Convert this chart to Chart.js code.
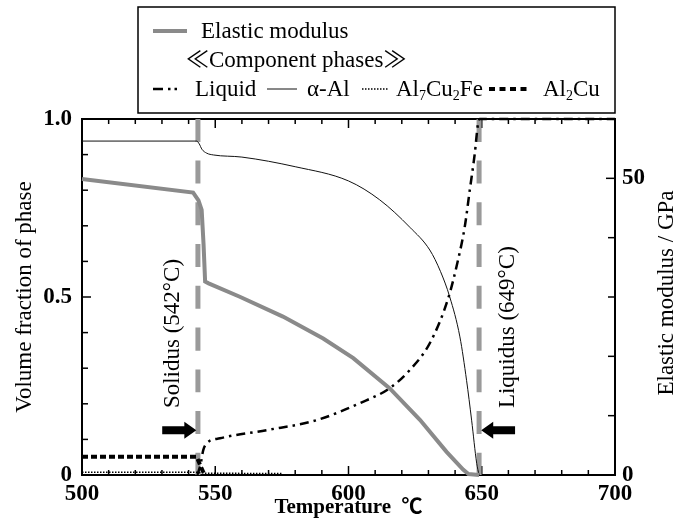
<!DOCTYPE html>
<html><head><meta charset="utf-8">
<script src="https://cdn.jsdelivr.net/npm/chart.js@4"></script>
<style>html,body{margin:0;padding:0;background:#fff}#wrap{width:691px;height:529px;position:relative}</style>
</head><body><div id="wrap"><canvas id="c"></canvas></div>
<script>
// ---------- data ----------
const xTickLabelValues = [500, 550, 600, 650, 700];
const yTickLabelValues = [0, 0.5, 1.0];
const yTickLabels = ['0', '0.5', '1.0'];
const y2TickLabelValues = [0, 50];

const alphaT = [500, 543, 544, 545, 546.8, 549.3, 560, 580, 600, 611.7, 623, 630.5, 634.5, 638, 641.8, 644.3, 646.2, 648.1, 649];
const alphaV = [0.938, 0.938, 0.93, 0.915, 0.904, 0.899, 0.893, 0.866, 0.826, 0.773, 0.696, 0.632, 0.572, 0.50, 0.388, 0.266, 0.154, 0.033, 0];

const liquidT = [543.3, 544.5, 545.5, 546.8, 551.8, 569.3, 588, 604.3, 615.5, 623, 630.5, 637.4, 641.1, 643.6, 645.5, 647.4, 648.6, 649.2, 700];
const liquidV = [0, 0.03, 0.07, 0.089, 0.103, 0.126, 0.154, 0.202, 0.244, 0.295, 0.37, 0.496, 0.604, 0.696, 0.80, 0.904, 0.987, 1.0, 1.0];

const al7T = [500, 543, 546, 575];
const al7V = [0.008, 0.008, 0.005, 0.004];

const al2T = [500, 543, 544.5, 546];
const al2V = [0.051, 0.051, 0.025, 0];

const elasticT = [500, 541.7, 543.7, 544.9, 545.6, 546.2, 547.5, 559.2, 575.4, 590.5, 601.8, 615.5, 626.8, 636.8, 643, 645, 649];
const elasticV = [49.9, 47.6, 46.3, 44.7, 39.0, 32.6, 32.3, 30.05, 26.7, 23.0, 19.7, 14.6, 9.3, 3.9, 0.9, 0.15, 0];

const solidusT = 543.5;
const liquidusT = 649;
const markerLabels = ['Solidus (542°C)', 'Liquidus (649°C)'];
const markerLabelT = [534.2, 659.9];
const markerLabelV = 0.188;
const arrowTailT = [530.1, 662.5];
const arrowTipT = [542.9, 649.8];
const arrowV = 0.126;

const seriesLabels = ['Elastic modulus', 'Liquid', 'α-Al', 'Al7Cu2Fe', 'Al2Cu'];
const phaseRich = [
  [['Liquid', 0]],
  [['α-Al', 0]],
  [['Al', 0], ['7', 1], ['Cu', 0], ['2', 1], ['Fe', 0]],
  [['Al', 0], ['2', 1], ['Cu', 0]]
];
const legendHeader = '≪Component phases≫';

// ---------- helpers ----------
const SERIF = '"Liberation Serif", "Times New Roman", "Noto Sans CJK JP", serif';
const pts = (xs, ys) => xs.map((x, i) => ({x, y: ys[i]}));
const near = (v, arr) => arr.findIndex(a => Math.abs(a - v) < 1e-6);

const datasets = [
  {label: seriesLabels[0], data: pts(elasticT, elasticV), yAxisID: 'y2', borderColor: '#8a8a8a', borderWidth: 4, order: 1, cubicInterpolationMode: 'default', tension: 0},
  {label: seriesLabels[1], data: pts(liquidT, liquidV), yAxisID: 'y', borderColor: '#000', borderWidth: 2.5, borderDash: [9, 5, 2.5, 5], order: 2},
  {label: seriesLabels[2], data: pts(alphaT, alphaV), yAxisID: 'y', borderColor: '#111', borderWidth: 1, order: 3},
  {label: seriesLabels[3], data: pts(al7T, al7V), yAxisID: 'y', borderColor: '#000', borderWidth: 1.5, borderDash: [1.5, 1.5], order: 4, cubicInterpolationMode: 'default'},
  {label: seriesLabels[4], data: pts(al2T, al2V), yAxisID: 'y', borderColor: '#000', borderWidth: 4, borderDash: [6, 3], order: 5, cubicInterpolationMode: 'default'},
  {label: 'Solidus', data: pts([solidusT, solidusT], [1, 0]), yAxisID: 'y', borderColor: '#9a9a9a', borderWidth: 5, borderDash: [23, 18.7], order: 8},
  {label: 'Liquidus', data: pts([liquidusT, liquidusT], [1, 0]), yAxisID: 'y', borderColor: '#9a9a9a', borderWidth: 5, borderDash: [23, 18.7], order: 8}
].map(d => Object.assign({pointRadius: 0, pointHoverRadius: 0, fill: false, tension: 0, cubicInterpolationMode: 'monotone', clip: false, borderCapStyle: 'butt'}, d));

const framePlugin = {
  id: 'frame',
  beforeDatasetsDraw(chart) {
    const {ctx, chartArea: ca} = chart;
    ctx.save();
    ctx.strokeStyle = '#000'; ctx.lineWidth = 2;
    ctx.strokeRect(ca.left, ca.top, ca.right - ca.left, ca.bottom - ca.top);
    ctx.lineWidth = 1.5;
    const line = (a, b, c, d) => { ctx.beginPath(); ctx.moveTo(a, b); ctx.lineTo(c, d); ctx.stroke(); };
    const sx = chart.scales.x, sy = chart.scales.y, sy2 = chart.scales.y2;
    sx.ticks.forEach(t => {
      const p = sx.getPixelForValue(t.value); const L = near(t.value, xTickLabelValues) >= 0 ? 9 : 5;
      line(p, ca.bottom, p, ca.bottom - L); line(p, ca.top, p, ca.top + L);
    });
    sy.ticks.forEach(t => {
      const p = sy.getPixelForValue(t.value); const L = near(t.value, yTickLabelValues) >= 0 ? 9 : 6;
      line(ca.left, p, ca.left + L, p);
    });
    sy2.ticks.forEach(t => {
      const p = sy2.getPixelForValue(t.value); const L = near(t.value, y2TickLabelValues) >= 0 ? 9 : 7;
      line(ca.right, p, ca.right - L, p);
    });
    ctx.restore();
  },
  afterDatasetsDraw(chart) {
    const {ctx, chartArea: ca} = chart;
    const sx = chart.scales.x, sy = chart.scales.y;
    ctx.save();
    ctx.fillStyle = '#000';
    ctx.font = '23px ' + SERIF;
    ctx.textAlign = 'left'; ctx.textBaseline = 'middle';
    markerLabels.forEach((s, i) => {
      ctx.save();
      ctx.translate(sx.getPixelForValue(markerLabelT[i]), sy.getPixelForValue(markerLabelV));
      ctx.rotate(-Math.PI / 2);
      ctx.fillText(s, 0, 0);
      ctx.restore();
    });
    // arrows
    arrowTailT.forEach((tail, i) => {
      const x0 = sx.getPixelForValue(tail), x1 = sx.getPixelForValue(arrowTipT[i]);
      const y = sy.getPixelForValue(arrowV);
      const dir = Math.sign(x1 - x0), head = 12;
      ctx.beginPath();
      ctx.moveTo(x0, y - 4); ctx.lineTo(x1 - dir * head, y - 4); ctx.lineTo(x1 - dir * head, y - 8.5);
      ctx.lineTo(x1, y); ctx.lineTo(x1 - dir * head, y + 8.5); ctx.lineTo(x1 - dir * head, y + 4);
      ctx.lineTo(x0, y + 4); ctx.closePath(); ctx.fill();
    });
    // right title
    ctx.save();
    ctx.font = '23px ' + SERIF; ctx.textAlign = 'center'; ctx.textBaseline = 'middle';
    ctx.translate(667, (ca.top + ca.bottom) / 2 - 4);
    ctx.rotate(-Math.PI / 2);
    ctx.fillText('Elastic modulus / GPa', 0, 0);
    ctx.restore();
    ctx.restore();
  },
  afterDraw(chart) {
    const {ctx} = chart;
    const ds = chart.data.datasets;
    ctx.save();
    ctx.strokeStyle = '#000'; ctx.lineWidth = 1.5;
    ctx.strokeRect(138, 7, 477, 106);
    const sample = (d, x0, x1, y, dash) => {
      ctx.save(); ctx.strokeStyle = d.borderColor; ctx.lineWidth = d.borderWidth;
      ctx.setLineDash(dash || d.borderDash || []);
      ctx.beginPath(); ctx.moveTo(x0, y); ctx.lineTo(x1, y); ctx.stroke(); ctx.restore();
    };
    const rich = (parts, x, y) => {
      parts.forEach(([t, sub]) => {
        ctx.font = (sub ? 14 : 23) + 'px ' + SERIF;
        ctx.fillText(t, x, sub ? y + 4 : y);
        x += ctx.measureText(t).width;
      });
      return x;
    };
    ctx.fillStyle = '#000'; ctx.textBaseline = 'alphabetic'; ctx.textAlign = 'left';
    // row 1
    sample(ds[0], 153, 187, 31);
    ctx.font = '23px ' + SERIF; ctx.fillText(ds[0].label, 201, 38);
    // row 2
    ctx.fillText(legendHeader, 186, 67);
    // row 3
    const y3 = 96, ys = 89;
    sample(ds[1], 153, 183, ys, [10, 5, 2.5, 4, 2.5, 40]);
    rich(phaseRich[0], 195, y3);
    sample(ds[2], 267, 297, ys);
    rich(phaseRich[1], 307, y3);
    sample(ds[3], 362, 388, ys);
    rich(phaseRich[2], 396, y3);
    sample(ds[4], 489, 530, ys, [6, 4.5]);
    rich(phaseRich[3], 543, y3);
    ctx.restore();
  }
};

new Chart(document.getElementById('c'), {
  type: 'line',
  data: {datasets},
  options: {
    responsive: true, maintainAspectRatio: false, animation: false,
    layout: {padding: {top: 119, left: 0, right: 0, bottom: 0}},
    plugins: {legend: {display: false}, tooltip: {enabled: false}},
    scales: {
      x: {
        type: 'linear', min: 500, max: 700,
        grid: {display: false, drawTicks: false}, border: {display: false},
        ticks: {stepSize: 10, autoSkip: false, maxRotation: 0, padding: 5, color: '#000',
          font: {family: SERIF, size: 23, weight: 'bold'},
          callback: v => near(v, xTickLabelValues) >= 0 ? String(Math.round(v)) : ''},
        title: {display: true, text: 'Temperature  ℃', color: '#000', font: {family: SERIF, size: 21, weight: 'bold'}, padding: {top: 0, bottom: 9}},
        afterFit: s => { s.height = 54; }
      },
      y: {
        type: 'linear', position: 'left', min: 0, max: 1,
        grid: {display: false, drawTicks: false}, border: {display: false},
        ticks: {stepSize: 0.1, autoSkip: false, padding: 10, color: '#000',
          font: {family: SERIF, size: 23, weight: 'bold'},
          callback: v => { const i = near(v, yTickLabelValues); return i >= 0 ? yTickLabels[i] : ''; }},
        title: {display: true, text: 'Volume fraction of phase', color: '#000', font: {family: SERIF, size: 23}, padding: {top: 11, bottom: 0}},
        afterFit: s => { s.width = 82; }
      },
      y2: {
        type: 'linear', position: 'right', min: 0, max: 60,
        grid: {display: false, drawTicks: false}, border: {display: false},
        ticks: {stepSize: 10, autoSkip: false, padding: 7, color: '#000',
          font: {family: SERIF, size: 23, weight: 'bold'},
          callback: v => near(v, y2TickLabelValues) >= 0 ? String(Math.round(v)) : ''},
        afterFit: s => { s.width = 76; }
      }
    }
  },
  plugins: [framePlugin]
});
</script></body></html>
